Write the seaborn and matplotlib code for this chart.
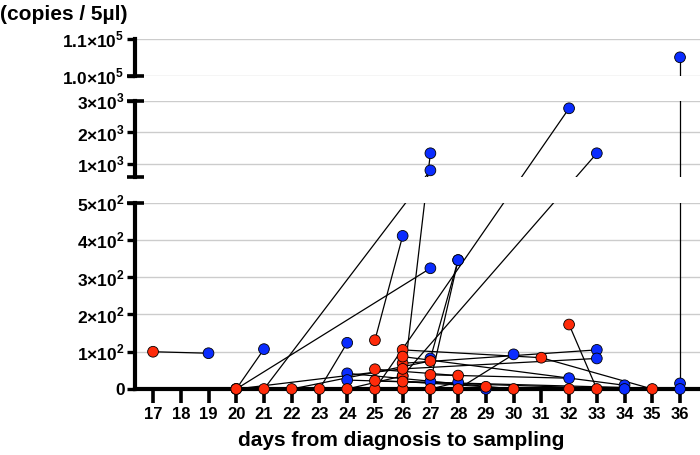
import numpy as np
import pandas as pd
import matplotlib
matplotlib.use("Agg")
import matplotlib.pyplot as plt
import seaborn as sns

# one row per sample: patient id, day, viral load and sample type (R = red, B = blue)
patient = [1, 1, 2, 2, 3, 3, 4, 4, 5, 5, 6, 6, 7, 7, 8, 8, 9, 9, 10, 10,
           11, 11, 12, 12, 13, 13, 14, 14, 15, 15, 15, 16, 16, 16, 17, 17,
           18, 18, 19, 19, 20, 20, 21, 21, 22, 22, 23, 23, 24, 24, 25, 25,
           26, 26, 27, 27, 28, 28]
day = [17, 19, 20, 21, 20, 27, 21, 27, 26, 27, 25, 26, 25, 32, 26, 33, 27, 28, 27, 28,
       36, 36, 32, 33, 28, 30, 26, 33, 20, 26, 33, 26, 31, 35, 23, 24,
       26, 34, 27, 32, 22, 27, 24, 30, 24, 34, 25, 28, 25, 36, 24, 26,
       26, 29, 27, 28, 29, 32]
load = [100, 96, 0, 107, 0, 324, 0, 800, 0, 1340, 131, 411, 0, 2760, 35, 1340, 82, 346, 20, 346,
        15, 105050, 173, 0, 0, 93, 69, 105, 0, 54, 82, 105, 84, 0, 0, 124,
        87, 10, 38, 29, 0, 75, 42, 0, 24, 0, 53, 36, 22, 0, 0, 35,
        20, 6, 0, 18, 0, 0]
sample = ['R', 'B', 'R', 'B', 'R', 'B', 'R', 'B', 'R', 'B', 'R', 'B', 'R', 'B', 'R', 'B', 'B', 'B', 'B', 'B',
          'B', 'B', 'R', 'R', 'R', 'B', 'R', 'B', 'R', 'R', 'B', 'R', 'R', 'R', 'R', 'B',
          'R', 'B', 'R', 'B', 'R', 'R', 'B', 'R', 'B', 'B', 'R', 'R', 'R', 'B', 'R', 'B',
          'R', 'R', 'R', 'B', 'B', 'R']

days = list(range(17, 37))
ytick_vals = [0, 100, 200, 300, 400, 500, 1000, 2000, 3000, 100000, 110000]
ytick_labels = ['0', r'$1{\times}10^{2}$', r'$2{\times}10^{2}$', r'$3{\times}10^{2}$',
                r'$4{\times}10^{2}$', r'$5{\times}10^{2}$', r'$1{\times}10^{3}$',
                r'$2{\times}10^{3}$', r'$3{\times}10^{3}$', r'$1.0{\times}10^{5}$',
                r'$1.1{\times}10^{5}$']

df = pd.DataFrame({'patient': patient, 'day': day, 'load': load, 'sample': sample})

sns.set_style('white')
plt.rcParams['font.family'] = ['Liberation Sans', 'DejaVu Sans']
plt.rcParams['font.weight'] = 'bold'
plt.rcParams['mathtext.fontset'] = 'custom'
plt.rcParams['mathtext.rm'] = 'Liberation Sans:bold'
plt.rcParams['mathtext.bf'] = 'Liberation Sans:bold'
for k in ['text.color', 'xtick.color', 'ytick.color', 'axes.labelcolor']:
    plt.rcParams[k] = 'black'

# broken y axis: three linear pieces with two gaps
seg_vals = [0, 500, 600, 3000, 100000, 110000]
seg_pos = [0, 186.3, 212.3, 288.3, 313, 350]

def fwd(v):
    return np.interp(v, seg_vals, seg_pos)

def inv(p):
    return np.interp(p, seg_pos, seg_vals)

fig = plt.figure(figsize=(7, 4.55), dpi=100)
ax = fig.add_axes([135/700, 66/455, 565/700, 350/455])
ax.set_yscale('function', functions=(fwd, inv))

sns.lineplot(data=df, x='day', y='load', units='patient', estimator=None, sort=False,
             color='black', lw=0.9, zorder=2, ax=ax, legend=False)

# hide the lines inside the two gaps
ax.axhspan(500, 600, color='white', lw=0, zorder=2.5)
ax.axhspan(3000, 100000, color='white', lw=0, zorder=2.5)

sns.scatterplot(data=df.sort_values('sample', kind='stable'), x='day', y='load',
                hue='sample', palette={'R': '#ff2b0a', 'B': '#0a2cff'}, s=60,
                edgecolor='black', linewidth=0.6, zorder=3, clip_on=False,
                ax=ax, legend=False)

ax.set_xlim(16.35, 36.72)
ax.set_ylim(0, 110000)
ax.set_xticks(days)
ax.set_yticks(ytick_vals, ytick_labels)
ax.grid(axis='y', color='#cccccc', lw=1.0)
ax.grid(axis='x', visible=False)

for s in ['left', 'top', 'right']:
    ax.spines[s].set_visible(False)
ax.spines['bottom'].set_linewidth(3)
ax.spines['bottom'].set_color('black')

ytr = ax.get_yaxis_transform()
for lo, hi in [(0, 500), (600, 3000), (100000, 110000)]:
    ax.plot([0, 0], [lo, hi], transform=ytr, color='black', lw=3,
            clip_on=False, solid_capstyle='projecting', zorder=4)
for v in [500, 600, 3000, 100000]:
    ax.plot([-8/565, 9/565], [v, v], transform=ytr, color='black', lw=2.6,
            clip_on=False, solid_capstyle='butt', zorder=4)

ax.tick_params(axis='y', direction='out', length=6, width=2.4, pad=1.5,
               labelsize=12.5, color='black', labelcolor='black', left=True)
ax.tick_params(axis='x', direction='out', length=10, width=2.6, pad=3,
               labelsize=12, color='black', labelcolor='black', bottom=True)
ax.set_xlabel('')
ax.set_ylabel('')
ax.set_ylim(0, 110000)

fig.text(0.0, 1 - 14/455, '(copies / 5µl)', ha='left', va='center',
         fontsize=15, fontweight='bold', color='black')
fig.text(401/700, 1 - 441/455, 'days from diagnosis to sampling', ha='center',
         va='center', fontsize=15, fontweight='bold', color='black')

fig.savefig('out.png', dpi=100)
